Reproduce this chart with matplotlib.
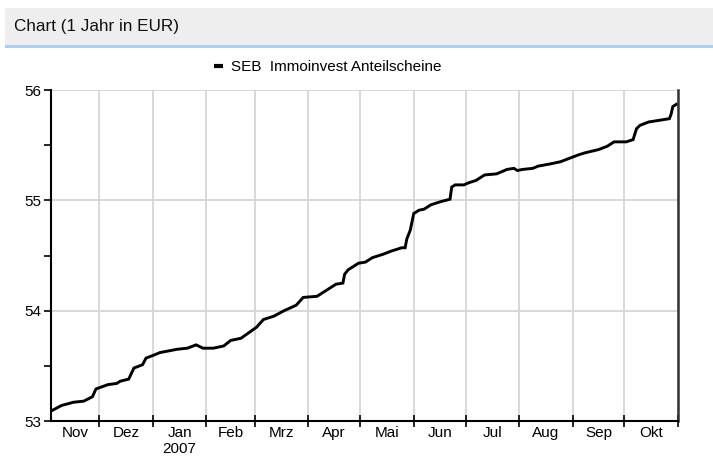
import pandas as pd
import matplotlib
matplotlib.use('Agg')
import matplotlib.pyplot as plt
from matplotlib.lines import Line2D
from matplotlib.patches import Rectangle

plt.rcParams['font.family'] = ['Liberation Sans', 'DejaVu Sans']

# Anteilspreis
dates = ['2006-11-03', '2006-11-09', '2006-11-16', '2006-11-22', '2006-11-27', '2006-11-29',
         '2006-12-06', '2006-12-11', '2006-12-13', '2006-12-18', '2006-12-21', '2006-12-26',
         '2006-12-28', '2007-01-02', '2007-01-05', '2007-01-15', '2007-01-21', '2007-01-26',
         '2007-01-30', '2007-02-05', '2007-02-11', '2007-02-15', '2007-02-21', '2007-03-02',
         '2007-03-06', '2007-03-12', '2007-03-18', '2007-03-25', '2007-03-29', '2007-04-06',
         '2007-04-11', '2007-04-17', '2007-04-21', '2007-04-22', '2007-04-24', '2007-04-30',
         '2007-05-04', '2007-05-08', '2007-05-14', '2007-05-19', '2007-05-25', '2007-05-27',
         '2007-05-28', '2007-05-30', '2007-06-01', '2007-06-04', '2007-06-07', '2007-06-11',
         '2007-06-17', '2007-06-22', '2007-06-23', '2007-06-25', '2007-06-30', '2007-07-03',
         '2007-07-07', '2007-07-12', '2007-07-19', '2007-07-25', '2007-07-29', '2007-07-31',
         '2007-08-03', '2007-08-09', '2007-08-12', '2007-08-19', '2007-08-25', '2007-08-30',
         '2007-09-04', '2007-09-08', '2007-09-16', '2007-09-21', '2007-09-25', '2007-10-02',
         '2007-10-06', '2007-10-08', '2007-10-10', '2007-10-15', '2007-10-19', '2007-10-27',
         '2007-10-28', '2007-10-29', '2007-10-31']
prices = [53.09, 53.14, 53.17, 53.18, 53.22, 53.29,
          53.33, 53.34, 53.36, 53.38, 53.48, 53.51,
          53.57, 53.60, 53.62, 53.65, 53.66, 53.69,
          53.66, 53.66, 53.68, 53.73, 53.75, 53.85,
          53.92, 53.95, 54.00, 54.05, 54.12, 54.13,
          54.18, 54.24, 54.25, 54.33, 54.37, 54.43,
          54.44, 54.48, 54.51, 54.54, 54.57, 54.57,
          54.65, 54.73, 54.88, 54.91, 54.92, 54.96,
          54.99, 55.01, 55.12, 55.14, 55.14, 55.16,
          55.18, 55.23, 55.24, 55.28, 55.29, 55.27,
          55.28, 55.29, 55.31, 55.33, 55.35, 55.38,
          55.41, 55.43, 55.46, 55.49, 55.53, 55.53,
          55.55, 55.65, 55.68, 55.71, 55.72, 55.74,
          55.78, 55.85, 55.87]

month_labels = ['Nov', 'Dez', 'Jan\n2007', 'Feb', 'Mrz', 'Apr', 'Mai', 'Jun', 'Jul', 'Aug', 'Sep', 'Okt']
y_ticks = [53, 54, 55, 56]
series_name = 'SEB  Immoinvest Anteilscheine'
title = 'Chart (1 Jahr in EUR)'

x = pd.to_datetime(dates)
x_start = pd.Timestamp('2006-11-03')
x_end = pd.Timestamp('2007-11-01')
month_starts = pd.date_range('2006-11-01', '2007-11-01', freq='MS')

fig = plt.figure(figsize=(7.13, 4.61), dpi=100)

# Kopfzeile
fig.patches.append(Rectangle((5 / 713, 1 - 45 / 461), 708 / 713, 37 / 461,
                             transform=fig.transFigure, facecolor='#eeeeee', edgecolor='none', zorder=0))
fig.patches.append(Rectangle((5 / 713, 1 - 48 / 461), 708 / 713, 3 / 461,
                             transform=fig.transFigure, facecolor='#a9cff2', edgecolor='none', zorder=0))
fig.text(14 / 713, 1 - 27 / 461, title, fontsize=12.3, va='center', ha='left', color='#111111')

ax = fig.add_axes([51 / 713, 1 - 421 / 461, 627 / 713, 331 / 461])
ax.plot(x, prices, color='black', linewidth=2.1, solid_joinstyle='miter')

ax.set_xlim(x_start, x_end)
ax.set_ylim(53, 56)

# x-Achse: Striche an Monatsanfaengen, Namen in der Monatsmitte
ax.set_xticks(month_starts[1:])
ax.set_xticklabels([])
mids = []
for a, b in zip(month_starts[:-1], month_starts[1:]):
    a = max(a, x_start)
    b = min(b, x_end)
    mids.append(a + (b - a) / 2)
ax.set_xticks(mids, minor=True)
ax.set_xticklabels(month_labels, minor=True, fontsize=11, linespacing=1.15)
ax.tick_params(axis='x', which='major', direction='inout', length=8, width=1.2, color='black')
ax.tick_params(axis='x', which='minor', length=0, pad=3.5)

ax.set_yticks(y_ticks)
ax.set_yticklabels([str(t) for t in y_ticks], fontsize=11)
ax.set_yticks([53.5, 54.5, 55.5], minor=True)
ax.tick_params(axis='y', which='both', direction='out', length=5, width=1.2, color='black', pad=2)

ax.grid(True, which='major', color='#d6d6d6', linewidth=1.3)
ax.set_axisbelow(True)

ax.spines['top'].set_visible(False)
ax.spines['left'].set_linewidth(1.5)
ax.spines['bottom'].set_linewidth(1.5)
ax.spines['right'].set_linewidth(1.8)
ax.spines['right'].set_color('#333333')

handle = Line2D([], [], color='black', linewidth=3, solid_capstyle='butt')
fig.legend([handle], [series_name], loc='center left', bbox_to_anchor=(214 / 713, 1 - 67 / 461),
           frameon=False, fontsize=11, handlelength=0.6, handletextpad=0.5,
           borderpad=0, borderaxespad=0)

plt.savefig('out.png', dpi=100)
